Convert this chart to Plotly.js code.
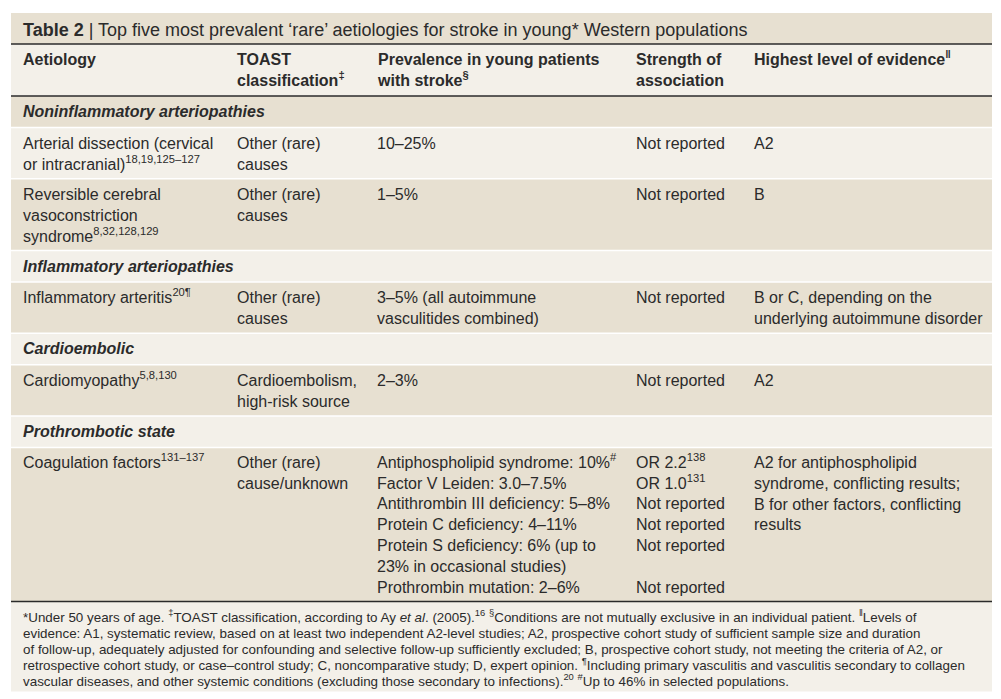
<!DOCTYPE html>
<html>
<head>
<meta charset="utf-8">
<script src="https://cdn.plot.ly/plotly-3.0.1.min.js"></script>
<style>html,body{margin:0;padding:0;background:#fff;}#chart{width:1001px;height:699px;}</style>
</head>
<body>
<div id="chart"></div>
<script>
// ---------- DATA ----------
const titleBold = "Table 2";
const titleText = "Top five most prevalent ‘rare’ aetiologies for stroke in young* Western populations";

const columnHeaders = [
  "Aetiology",
  "TOAST<br>classification<sup>‡</sup>",
  "Prevalence in young patients<br>with stroke<sup>§</sup>",
  "Strength of<br>association",
  "Highest level of evidence<sup>‖</sup>"
];

const sections = [
  "Noninflammatory arteriopathies",
  "Inflammatory arteriopathies",
  "Cardioembolic",
  "Prothrombotic state"
];

const rowSection = [0, 0, 1, 2, 3];

const aetiology = [
  "Arterial dissection (cervical<br>or intracranial)<sup>18,19,125–127</sup>",
  "Reversible cerebral<br>vasoconstriction<br>syndrome<sup>8,32,128,129</sup>",
  "Inflammatory arteritis<sup>20¶</sup>",
  "Cardiomyopathy<sup>5,8,130</sup>",
  "Coagulation factors<sup>131–137</sup>"
];

const toast = [
  "Other (rare)<br>causes",
  "Other (rare)<br>causes",
  "Other (rare)<br>causes",
  "Cardioembolism,<br>high-risk source",
  "Other (rare)<br>cause/unknown"
];

const prevalence = [
  "10–25%",
  "1–5%",
  "3–5% (all autoimmune<br>vasculitides combined)",
  "2–3%",
  "Antiphospholipid syndrome: 10%<sup>#</sup><br>Factor V Leiden: 3.0–7.5%<br>Antithrombin III deficiency: 5–8%<br>Protein C deficiency: 4–11%<br>Protein S deficiency: 6% (up to<br>23% in occasional studies)<br>Prothrombin mutation: 2–6%"
];

const strength = [
  "Not reported",
  "Not reported",
  "Not reported",
  "Not reported",
  "OR 2.2<sup>138</sup><br>OR 1.0<sup>131</sup><br>Not reported<br>Not reported<br>Not reported<br> <br>Not reported"
];

const evidence = [
  "A2",
  "B",
  "B or C, depending on the<br>underlying autoimmune disorder",
  "A2",
  "A2 for antiphospholipid<br>syndrome, conflicting results;<br>B for other factors, conflicting<br>results"
];

const footnoteLines = [
  "*Under 50 years of age. <sup>‡</sup>TOAST classification, according to Ay <i>et al</i>. (2005).<sup>16</sup> <sup>§</sup>Conditions are not mutually exclusive in an individual patient. <sup>‖</sup>Levels of",
  "evidence: A1, systematic review, based on at least two independent A2-level studies; A2, prospective cohort study of sufficient sample size and duration",
  "of follow-up, adequately adjusted for confounding and selective follow-up sufficiently excluded; B, prospective cohort study, not meeting the criteria of A2, or",
  "retrospective cohort study, or case–control study; C, noncomparative study; D, expert opinion. <sup>¶</sup>Including primary vasculitis and vasculitis secondary to collagen",
  "vascular diseases, and other systemic conditions (excluding those secondary to infections).<sup>20</sup> <sup>#</sup>Up to 46% in selected populations."
];

// ---------- LAYOUT CONSTANTS ----------
const W = 1001, H = 699;
const FONT = '"Liberation Sans", Arial, sans-serif';
const TEXT = '#2b2b2b';
const DARK = '#e7e0d1';
const LIGHT = '#f3f0e9';
const RULE = '#2b2b2b';
const LEFT = 11, RIGHT = 992, TOP = 13;
const colX = [21, 235, 375, 634, 752];
const LINE_H = 20.6;
const FOOT_SIZE = 13.4, FOOT_LH = 16;

function nLines(s) { return s.split('<br>').length; }

// Build block list
const blocks = [];
blocks.push({kind: 'title', h: 31});
blocks.push({kind: 'header', h: 52});
sections.forEach((sec, s) => {
  blocks.push({kind: 'section', text: sec, h: 31.5});
  rowSection.forEach((rs, i) => {
    if (rs === s) {
      const n = Math.max(nLines(aetiology[i]), nLines(toast[i]), nLines(prevalence[i]), nLines(strength[i]), nLines(evidence[i]));
      blocks.push({kind: 'row', i: i, h: 10 + n * LINE_H});
    }
  });
});
blocks.push({kind: 'foot', h: 90});

const shapes = [];
const annotations = [];
let y = TOP;
const bounds = [];
function ann(x, yy, text, size, supShift) {
  // a superscript on the first line raises the text box top; compensate
  const first = text.split('<br>')[0];
  const shift = first.indexOf('<sup>') >= 0 ? (supShift === undefined ? 0.19 : supShift) * size : 0;
  annotations.push({
    x: x, y: yy - shift, xref: 'x', yref: 'y', text: text, showarrow: false,
    xanchor: 'left', yanchor: 'top', align: 'left',
    font: {family: FONT, size: size, color: TEXT}
  });
}

blocks.forEach((b, k) => {
  const y0 = y, y1 = y + b.h;
  shapes.push({type: 'rect', xref: 'x', yref: 'y', x0: LEFT, x1: RIGHT, y0: y0, y1: y1,
    fillcolor: (k % 2 === 0) ? DARK : LIGHT, line: {width: 0}, layer: 'below'});
  if (b.kind === 'title') {
    ann(colX[0], y0 + 4.5, '<b>' + titleBold + '</b> | ' + titleText, 18);
  } else if (b.kind === 'header') {
    columnHeaders.forEach((t, c) => ann(colX[c], y0 + 5, '<b>' + t + '</b>', 16));
  } else if (b.kind === 'section') {
    ann(colX[0], y0 + 5, '<b><i>' + b.text + '</i></b>', 16);
  } else if (b.kind === 'row') {
    const i = b.i;
    [aetiology[i], toast[i], prevalence[i], strength[i], evidence[i]].forEach((t, c) => ann(colX[c], y0 + 5, t, 16));
  } else if (b.kind === 'foot') {
    footnoteLines.forEach((t, j) => ann(colX[0], y0 + 6.5 + j * FOOT_LH, t, FOOT_SIZE, 0.12));
  }
  bounds.push({kind: b.kind, y: y1});
  y = y1;
});

// rules and separators
bounds.forEach((bd, k) => {
  if (k === bounds.length - 1) return;
  const next = blocks[k + 1];
  const dark = (bd.kind === 'title' || bd.kind === 'header' || next.kind === 'foot');
  shapes.push({type: 'line', xref: 'x', yref: 'y', x0: LEFT, x1: RIGHT, y0: bd.y, y1: bd.y,
    line: {color: dark ? RULE : '#ffffff', width: 1.5}});
});

const layout = {
  width: W, height: H,
  margin: {l: 0, r: 0, t: 0, b: 0},
  paper_bgcolor: '#ffffff', plot_bgcolor: '#ffffff',
  xaxis: {range: [0, W], visible: false, fixedrange: true},
  yaxis: {range: [H, 0], visible: false, fixedrange: true},
  showlegend: false,
  shapes: shapes,
  annotations: annotations
};

Plotly.newPlot('chart', [], layout, {staticPlot: true, displayModeBar: false});
</script>
</body>
</html>
